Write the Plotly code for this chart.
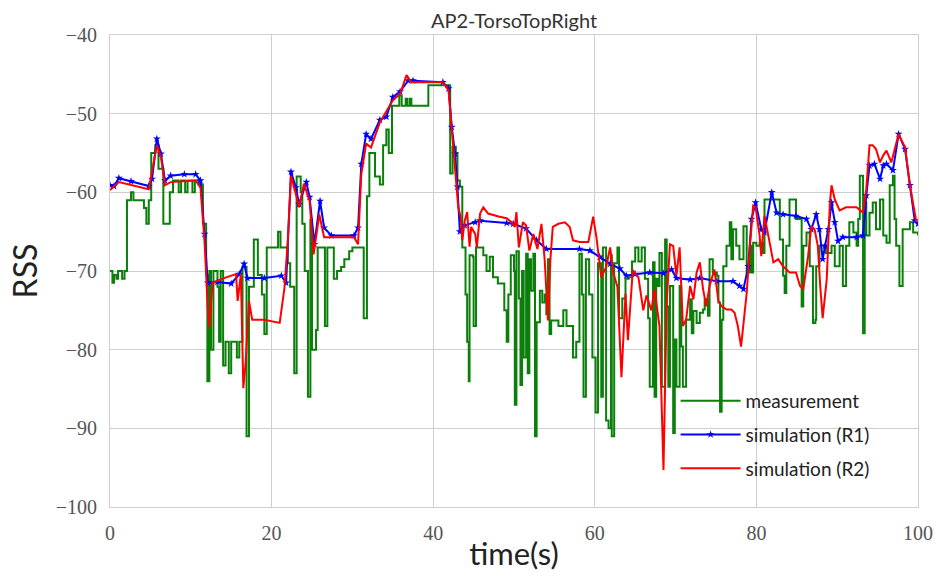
import plotly.graph_objects as go

# measurement (green, step-like)
meas_t = [0.0, 0.3, 0.5, 0.8, 1.0, 1.5, 1.8, 2.1, 2.6, 2.9, 4.2, 4.5, 4.8, 5.1, 5.6, 6.0, 6.6, 7.4, 7.8, 8.5,
          8.8, 9.3, 9.6, 10.2, 10.5, 11.0, 11.5, 11.9, 12.05, 12.3, 12.5, 12.8, 13.3, 13.5, 13.7, 14.0, 14.3, 14.7, 15.0, 15.7,
          16.0, 16.4, 16.9, 17.2, 17.8, 18.3, 18.8, 19.1, 19.4, 20.8, 21.1, 22.0, 22.3, 22.8, 23.1, 23.6, 23.8, 24.1, 24.5, 24.8,
          25.0, 25.5, 25.7, 26.6, 26.9, 27.7, 28.1, 28.6, 29.0, 29.6, 30.0, 31.4, 31.8, 32.1, 32.8, 33.4, 33.8, 34.2, 34.5, 34.9,
          35.8, 36.1, 36.6, 36.8, 37.1, 37.3, 39.4, 42.1, 42.4, 42.8, 43.0, 43.3, 43.6, 44.0, 44.2, 44.4, 44.5, 44.9, 45.0, 45.3,
          46.2, 46.6, 47.0, 47.4, 48.0, 48.8, 49.1, 49.3, 49.6, 50.0, 50.1, 50.3, 50.6, 50.8, 51.0, 51.2, 51.5, 51.7, 51.9, 52.1,
          52.4, 52.6, 52.8, 53.2, 53.5, 53.8, 54.0, 54.2, 54.4, 54.6, 55.5, 56.1, 56.5, 57.3, 57.7, 58.1, 58.4, 58.6, 58.9, 59.3,
          59.7, 60.1, 60.4, 60.8, 61.0, 61.4, 61.7, 62.0, 62.1, 62.4, 62.8, 63.0, 63.4, 63.8, 64.2, 64.6, 65.0, 65.4, 65.8, 66.2,
          66.6, 66.8, 67.2, 67.4, 67.6, 67.8, 68.0, 68.3, 68.7, 68.9, 69.1, 69.3, 69.7, 69.9, 70.1, 70.5, 70.7, 70.9, 71.3, 71.8,
          72.0, 72.2, 72.6, 73.0, 73.4, 73.6, 74.0, 74.2, 74.6, 75.1, 75.3, 75.5, 75.7, 75.9, 76.3, 76.7, 76.9, 77.1, 77.5, 77.9,
          78.4, 78.8, 79.2, 79.4, 79.6, 80.0, 80.4, 80.8, 81.0, 82.7, 82.9, 83.3, 83.5, 83.7, 84.1, 84.5, 84.9, 85.6, 85.8, 86.2,
          86.6, 87.0, 87.3, 87.4, 87.8, 88.2, 88.6, 89.3, 89.7, 90.3, 90.7, 91.1, 91.5, 92.0, 92.4, 92.6, 92.8, 93.2, 93.4, 93.6,
          94.0, 94.4, 94.8, 95.3, 95.7, 96.1, 96.5, 96.9, 97.1, 97.3, 97.7, 98.1, 98.9, 99.0, 99.4, 100.0]
meas_rss = [-70, -71.5, -70.5, -71, -70, -71, -70, -61, -60, -61, -62, -64, -61, -55, -54, -57, -64, -60, -58.5, -60,
            -58.5, -60, -58.5, -60, -58.5, -59, -64, -70.5, -84, -70, -80, -70, -72, -79, -70, -82, -79, -83, -79, -81,
            -79, -69.5, -91, -72, -66, -70.5, -73, -78, -67, -65, -67, -69, -72, -83, -58, -60, -64, -70, -86, -63.5,
            -80, -77.5, -67, -77, -67, -71, -70, -69.5, -68.5, -67.5, -67, -76, -60.5, -55, -58, -59, -54, -52, -55, -49,
            -47.7, -49, -48.1, -49, -48.1, -49, -46.4, -57.6, -54.2, -55, -58.5, -59.3, -67, -73, -79, -84, -68, -68.2, -77, -67,
            -68, -70, -68.2, -70.8, -71.6, -75, -79, -73, -68, -70, -87, -67.5, -73.5, -84.5, -70, -81, -67.8, -83, -68.5, -72.5,
            -67.8, -91, -76.5, -72.5, -74, -73, -75.5, -68.5, -78, -76.3, -77, -75, -77, -81, -79, -67.8, -73, -86, -68.5, -73,
            -81, -88, -69, -86, -67, -89, -90, -68, -91, -69, -67, -76, -73.5, -71, -70.8, -68.8, -67, -68.8, -67, -71,
            -76, -84.7, -68.9, -86, -71, -71.9, -67.7, -84.7, -66, -74.5, -84.7, -71.9, -90.6, -78.7, -84.7, -71.9, -79.6, -84.7, -76.2, -73.6,
            -77.9, -75.1, -76.6, -75.3, -74.9, -73.6, -75.7, -68.5, -70.2, -70.6, -74, -87.9, -76.2, -69.4, -66.8, -63.8, -68.5, -64.7, -66.8, -68.5,
            -64.3, -70.2, -66.8, -70.2, -66.4, -66.8, -66.4, -67.7, -60.9, -60.9, -66, -70.6, -72.8, -66.8, -60.9, -60.9, -63.4, -74.5, -66.8, -65.1,
            -69.4, -76.6, -76.2, -69.4, -66.8, -66.8, -67.7, -66.8, -69.4, -66.8, -71.9, -66.8, -63.8, -65.1, -66.8, -63.4, -57.9, -77.9, -61.3, -65.5,
            -62.6, -61.3, -64.7, -60.9, -65.5, -66.4, -59.1, -57.9, -63.4, -66.8, -71.9, -64.7, -64.7, -63.8, -65.1, -65.5]

# simulation R1 (blue, star markers)
r1_t = [0, 0.5, 1.1, 2.6, 4.8, 5.2, 5.8, 6.3, 6.8, 7.5, 9.2, 10.6, 11.2, 11.7, 12.1, 13.3, 15.0, 16.0, 16.6, 17.0,
        19.1, 21.2, 21.8, 22.4, 23.0, 23.4, 24.3, 24.7, 25.3, 26.0, 26.5, 27.4, 30.2, 30.7, 31.1, 31.7, 32.3, 33.4, 34.2, 35.0,
        35.9, 36.9, 37.5, 41.2, 41.9, 42.3, 42.7, 43.0, 43.3, 43.9, 45.2, 45.8, 49.1, 49.9, 51.5, 52.8, 54.0, 58.1, 59.4, 60.6,
        61.9, 63.1, 63.9, 65.0, 66.8, 68.5, 69.5, 70.1, 71.8, 73.0, 75.1, 77.1, 77.9, 78.4, 79.0, 79.4, 79.9, 80.6, 81.0, 81.9,
        82.5, 83.3, 84.9, 86.2, 86.8, 87.4, 87.8, 88.2, 88.5, 88.9, 89.3, 89.7, 90.1, 90.7, 92.4, 93.2, 93.6, 94.0, 94.6, 95.3,
        95.7, 96.1, 96.9, 97.6, 98.4, 99.0, 99.6, 100.0]
r1_rss = [-59.1, -59.2, -58.2, -58.6, -59.2, -58.3, -53.2, -55.1, -58.5, -57.9, -57.7, -57.7, -58.5, -65.3, -71.5, -71.4, -71.6, -70.4, -69.1, -70.9,
          -70.9, -70.6, -71.5, -57.4, -59.4, -61.5, -58.7, -60.6, -66.6, -61.1, -64.5, -65.5, -65.5, -64.5, -56.4, -52.6, -53.2, -50.8, -50.4, -47.9,
          -47.2, -45.8, -45.8, -46, -46.8, -51.7, -55.1, -59.3, -65, -64.2, -63.8, -63.6, -63.9, -64, -64.6, -66.1, -67.2, -67.2, -67.4, -68.2,
          -69.1, -69.7, -70.6, -70.4, -70.2, -70.3, -69.8, -70.9, -71.1, -70.9, -71.3, -71.3, -71.9, -72.3, -69.4, -63.4, -61.3, -64.7, -65.1, -60,
          -62.6, -62.8, -63, -63.4, -64.7, -62.8, -64.7, -68.5, -66.8, -64.7, -61.3, -63.8, -66.2, -65.7, -65.7, -65.5, -60.4, -56.6, -56.4, -58.3,
          -56.6, -56.4, -57.2, -52.6, -54.5, -59.1, -63.6, -64]

# simulation R2 (red)
r2_t = [0, 1.1, 4.8, 5.8, 6.3, 6.8, 7.5, 10.6, 11.2, 11.7, 12.1, 12.3, 12.7, 14.1, 15.6, 15.8, 16.2, 16.5, 16.8, 17.2,
        17.6, 19.1, 21.0, 21.6, 22.0, 22.4, 23.0, 23.4, 24.0, 24.7, 25.2, 25.9, 26.5, 30.2, 30.7, 31.1, 31.7, 32.3, 33.4, 35.0,
        35.9, 36.7, 37.3, 41.2, 41.9, 42.3, 42.7, 43.1, 43.4, 43.6, 43.9, 44.2, 44.5, 44.7, 45.2, 45.4, 45.8, 46.2, 46.8, 47.4,
        48.2, 49.1, 49.7, 50.1, 50.3, 50.6, 51.1, 51.5, 51.9, 52.4, 52.9, 53.4, 53.8, 54.2, 54.5, 54.8, 55.5, 56.3, 56.9, 57.3,
        58.1, 59.2, 59.8, 60.2, 60.8, 61.4, 61.9, 62.3, 62.8, 63.3, 63.8, 64.1, 64.7, 65.4, 66.0, 66.4, 67.0, 67.4, 68.0, 68.5,
        68.9, 69.3, 69.7, 70.1, 70.5, 70.9, 71.3, 71.8, 72.2, 72.6, 73.0, 73.4, 73.8, 74.2, 74.8, 75.3, 75.7, 76.3, 76.9, 77.3,
        77.7, 78.1, 78.6, 78.8, 79.2, 79.6, 79.9, 80.4, 80.6, 81.0, 81.4, 82.1, 82.7, 83.3, 84.1, 84.9, 85.4, 85.8, 86.4, 86.8,
        87.2, 87.6, 87.9, 88.2, 88.7, 89.1, 89.3, 89.7, 90.3, 91.1, 92.4, 93.2, 93.6, 94.0, 94.4, 94.8, 95.3, 95.7, 96.1, 96.7,
        97.6, 98.4, 99.0, 99.8]
r2_rss = [-59.7, -58.7, -59.6, -54, -55.5, -59.1, -58.7, -58.5, -59.4, -66.2, -74.7, -77.2, -71.5, -70.9, -70.4, -73.8, -70.4, -84.9, -81.5, -73.8,
          -76.2, -76.2, -76.6, -72.1, -66.2, -57.9, -60.2, -61.9, -58.9, -61.1, -67.9, -62.8, -65.7, -65.7, -66.6, -57.7, -53.8, -54.3, -51.1, -48.3,
          -47.5, -45.1, -46, -46, -47, -52.1, -56.4, -61.9, -63.1, -66.1, -63.6, -62.5, -66.9, -64.4, -65.3, -67, -62.7, -61.9, -62.7, -62.9,
          -63.1, -63.3, -63.8, -64.4, -62.5, -67, -63.8, -64.2, -67.4, -65.3, -67.2, -64, -68.6, -76.3, -68.6, -64.4, -64, -63.8, -64.4, -66.1,
          -66.3, -66.3, -63.1, -65.7, -70.8, -69.5, -67, -70.3, -72, -83.5, -72.9, -78.8, -69.9, -70.8, -75, -73.1, -75, -72.3, -77, -95.3,
          -74, -66.6, -66.8, -70.6, -67, -77, -76.2, -71.9, -73.6, -70.2, -68.9, -72.3, -74.5, -71.9, -69.8, -73.8, -74.5, -74.9, -74.9, -75.3,
          -77, -79.6, -74.5, -72.8, -66.8, -61.7, -61.9, -65.5, -68.1, -63, -65.1, -68.9, -68.5, -69.4, -70.2, -70.2, -71.9, -72.3, -68.1, -64.3,
          -64.7, -66.8, -71.9, -76, -71.1, -61.3, -59.1, -60.9, -62.3, -61.9, -61.9, -62.6, -59.6, -54, -54, -54.5, -56.2, -55.3, -54.7, -56.2,
          -52.6, -54.3, -59.1, -63.8]

x_ticks = [0, 20, 40, 60, 80, 100]
y_ticks = [-100, -90, -80, -70, -60, -50, -40]

fig = go.Figure()
fig.add_trace(go.Scatter(x=meas_t, y=meas_rss, mode="lines", name="measurement",
                         line=dict(color="#0a800a", width=2, shape="hv"), legendgroup="a"))
fig.add_trace(go.Scatter(x=r1_t, y=r1_rss, mode="lines+markers", name="simulation (R1)",
                         line=dict(color="#0000ff", width=2),
                         marker=dict(symbol="star", size=6, color="#0000ff"), legendgroup="b"))
fig.add_trace(go.Scatter(x=r2_t, y=r2_rss, mode="lines", name="simulation (R2)",
                         line=dict(color="#ff0000", width=2), legendgroup="c"))

tick_font = dict(family="Liberation Serif, DejaVu Serif, serif", size=20, color="#555555")
sans = "Lato, Open Sans, DejaVu Sans, sans-serif"

fig.update_layout(
    width=936, height=581,
    margin=dict(l=110, r=18, t=35, b=74),
    paper_bgcolor="white", plot_bgcolor="white",
    title=dict(text="AP2-TorsoTopRight", x=0.5, xref="paper", xanchor="center",
               y=1, yref="paper", yanchor="bottom", pad=dict(b=7),
               font=dict(family=sans, size=20, color="#333333")),
    xaxis=dict(range=[0, 100], tickvals=x_ticks, showgrid=True, gridcolor="#cfcfcf", gridwidth=1,
               showline=True, mirror=True, linecolor="#cfcfcf", linewidth=1, zeroline=False,
               ticks="", ticklabelstandoff=8, tickfont=tick_font, automargin=False,
               title=dict(text="time(s)", font=dict(family=sans, size=31, color="#222222"), standoff=0)),
    yaxis=dict(range=[-100, -40], tickvals=y_ticks, showgrid=True, gridcolor="#cfcfcf", gridwidth=1,
               showline=True, mirror=True, linecolor="#cfcfcf", linewidth=1, zeroline=False,
               ticks="", ticklabelstandoff=8, tickfont=tick_font, automargin=False,
               title=dict(text="RSS", font=dict(family=sans, size=32, color="#222222"), standoff=8)),
    legend=dict(x=0.70, y=0.265, xanchor="left", yanchor="top", bgcolor="rgba(0,0,0,0)",
                font=dict(family=sans, size=19, color="#222222"), tracegroupgap=6,
                traceorder="grouped", itemwidth=60),
    showlegend=True,
)

fig.write_html("out.html")
